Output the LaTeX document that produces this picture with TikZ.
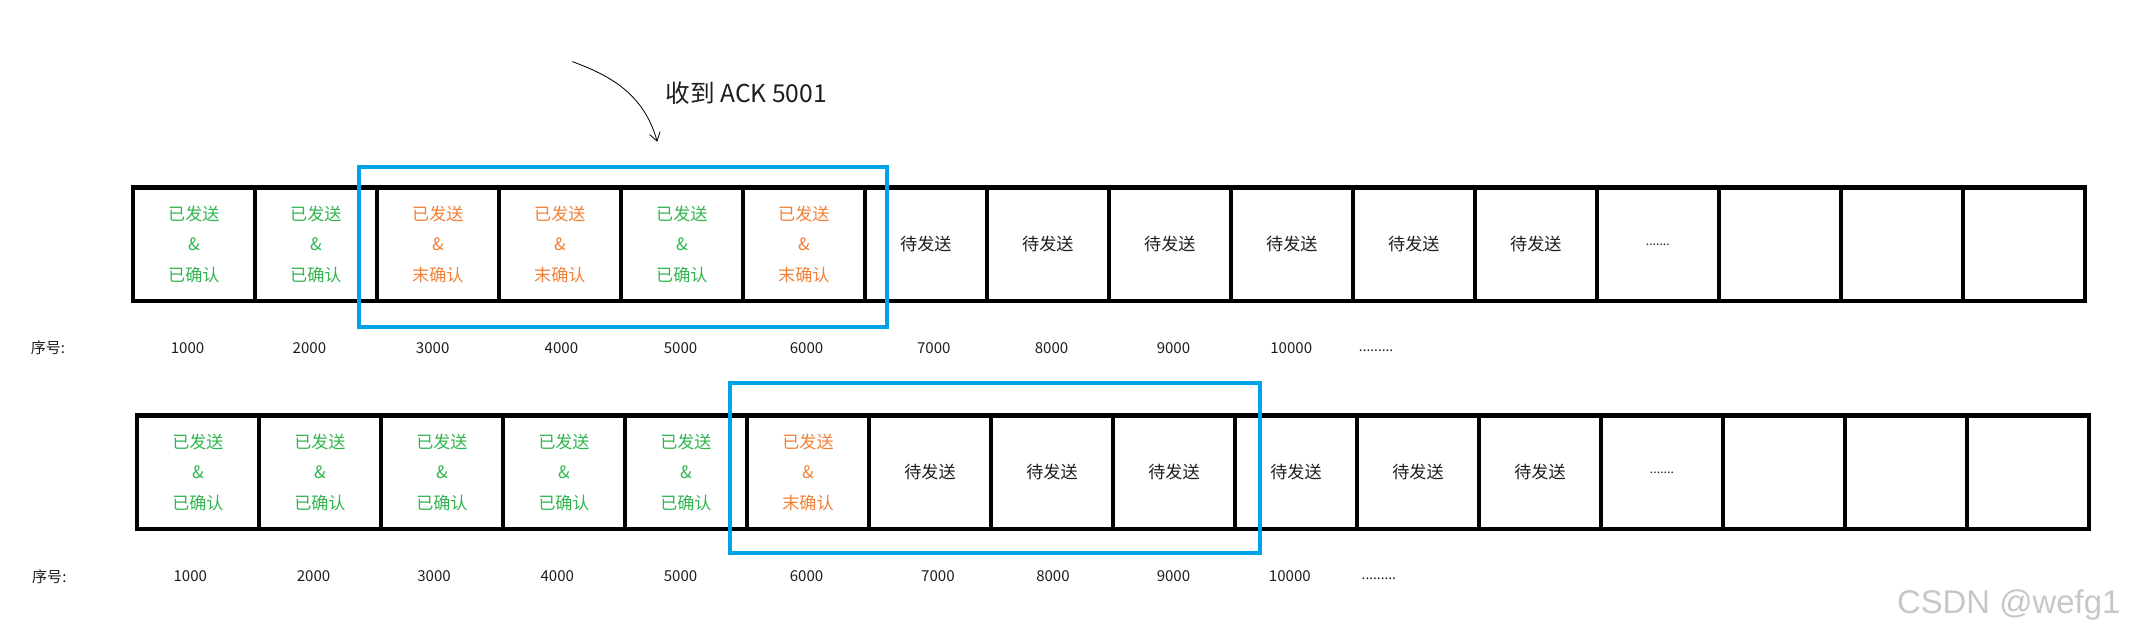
\documentclass[tikz,border=0pt]{standalone}
\usepackage{fontspec}
\setmainfont{Noto Sans CJK SC}
\newfontfamily\wmfont{Liberation Sans}
\usetikzlibrary{arrows.meta}
\definecolor{ackgreen}{RGB}{50,180,80}
\definecolor{unackorange}{RGB}{240,128,55}
\definecolor{winblue}{RGB}{0,162,232}
\definecolor{textdark}{RGB}{30,30,30}
\newcommand{\sentacked}{已发送\\\&\\已确认}
\newcommand{\sentunacked}{已发送\\\&\\末确认}
\tikzset{
  cellbox/.style={draw=black, line width=3.3pt, minimum width=89.1pt, minimum height=83pt,
    inner sep=0pt, align=center, text=textdark,
    font=\fontsize{12.5}{22.5}\selectfont},
  okcell/.style={cellbox, text=ackgreen},
  pendcell/.style={cellbox, text=unackorange},
  seqlabel/.style={font=\fontsize{11}{13}\selectfont, text=textdark, inner sep=0pt},
  dotlabel/.style={font=\fontsize{10}{11}\selectfont, text=textdark, inner sep=0pt},
  winbox/.style={draw=winblue, line width=3pt, inner sep=0pt},
  acklabel/.style={font=\fontsize{18}{20}\selectfont, text=textdark, inner sep=0pt},
  handarrow/.style={draw=black, line width=0.6pt, -{Straight Barb[length=6pt,width=8pt]}},
  watermark/.style={font=\wmfont\fontsize{24}{26}\selectfont, text=black!22, inner sep=0pt}
}
\begin{document}
\begin{tikzpicture}[x=1pt,y=-1pt]
\useasboundingbox (0,0) rectangle (1568,470);

% ---------- row 1 ----------
\foreach \i in {1,...,16} {
  \pgfmathsetmacro{\cx}{97+89.1*(\i-0.5)}
  \ifnum\i=3 \def\st{pendcell}\def\tx{\sentunacked}
  \else\ifnum\i=4 \def\st{pendcell}\def\tx{\sentunacked}
  \else\ifnum\i=6 \def\st{pendcell}\def\tx{\sentunacked}
  \else\ifnum\i<7 \def\st{okcell}\def\tx{\sentacked}
  \else\ifnum\i<13 \def\st{cellbox}\def\tx{待发送}
  \else\ifnum\i=13 \def\st{cellbox}\def\tx{{\fontsize{9}{10}\selectfont .......}}
  \else \def\st{cellbox}\def\tx{}
  \fi\fi\fi\fi\fi\fi
  \node[\st] (a\i) at (\cx,178.5) {\tx};
}

% ---------- row 2 ----------
\foreach \i in {1,...,16} {
  \pgfmathsetmacro{\cx}{100+89.1*(\i-0.5)}
  \ifnum\i<6 \def\st{okcell}\def\tx{\sentacked}
  \else\ifnum\i=6 \def\st{pendcell}\def\tx{\sentunacked}
  \else\ifnum\i<13 \def\st{cellbox}\def\tx{待发送}
  \else\ifnum\i=13 \def\st{cellbox}\def\tx{{\fontsize{9}{10}\selectfont .......}}
  \else \def\st{cellbox}\def\tx{}
  \fi\fi\fi\fi
  \node[\st] (b\i) at (\cx,345) {\tx};
}

% ---------- sequence numbers ----------
\node[seqlabel] (s1) at (35,254) {序号:};
\node[seqlabel] (s1n1) at (137,254) {1000};
\node[seqlabel] (s1n2) at (226,254) {2000};
\node[seqlabel] (s1n3) at (316,254) {3000};
\node[seqlabel] (s1n4) at (410,254) {4000};
\node[seqlabel] (s1n5) at (497,254) {5000};
\node[seqlabel] (s1n6) at (589,254) {6000};
\node[seqlabel] (s1n7) at (682,254) {7000};
\node[seqlabel] (s1n8) at (768,254) {8000};
\node[seqlabel] (s1n9) at (857,254) {9000};
\node[seqlabel] (s1n10) at (943,254) {10000};
\node[dotlabel] (s1d) at (1005,256) {.........};

\node[seqlabel] (s2) at (36,421) {序号:};
\node[seqlabel] (s2n1) at (139,421) {1000};
\node[seqlabel] (s2n2) at (229,421) {2000};
\node[seqlabel] (s2n3) at (317,421) {3000};
\node[seqlabel] (s2n4) at (407,421) {4000};
\node[seqlabel] (s2n5) at (497,421) {5000};
\node[seqlabel] (s2n6) at (589,421) {6000};
\node[seqlabel] (s2n7) at (685,421) {7000};
\node[seqlabel] (s2n8) at (769,421) {8000};
\node[seqlabel] (s2n9) at (857,421) {9000};
\node[seqlabel] (s2n10) at (942,421) {10000};
\node[dotlabel] (s2d) at (1007,423) {.........};

% ---------- sliding windows ----------
\node[winbox, minimum width=386pt, minimum height=117pt] (win1) at (455,180.5) {};
\node[winbox, minimum width=387pt, minimum height=124pt] (win2) at (726.5,342) {};

% ---------- ACK annotation ----------
\node[acklabel] (ack) at (545,68) {收到 ACK 5001};
\coordinate (arrs) at (418,45);
\coordinate (arre) at (480,103.5);
\draw[handarrow] (arrs) .. controls (445,55) and (470,68) .. (arre);

% ---------- watermark ----------
\node[watermark] (wm) at (1467,442) {CSDN @wefg1};
\end{tikzpicture}
\end{document}
